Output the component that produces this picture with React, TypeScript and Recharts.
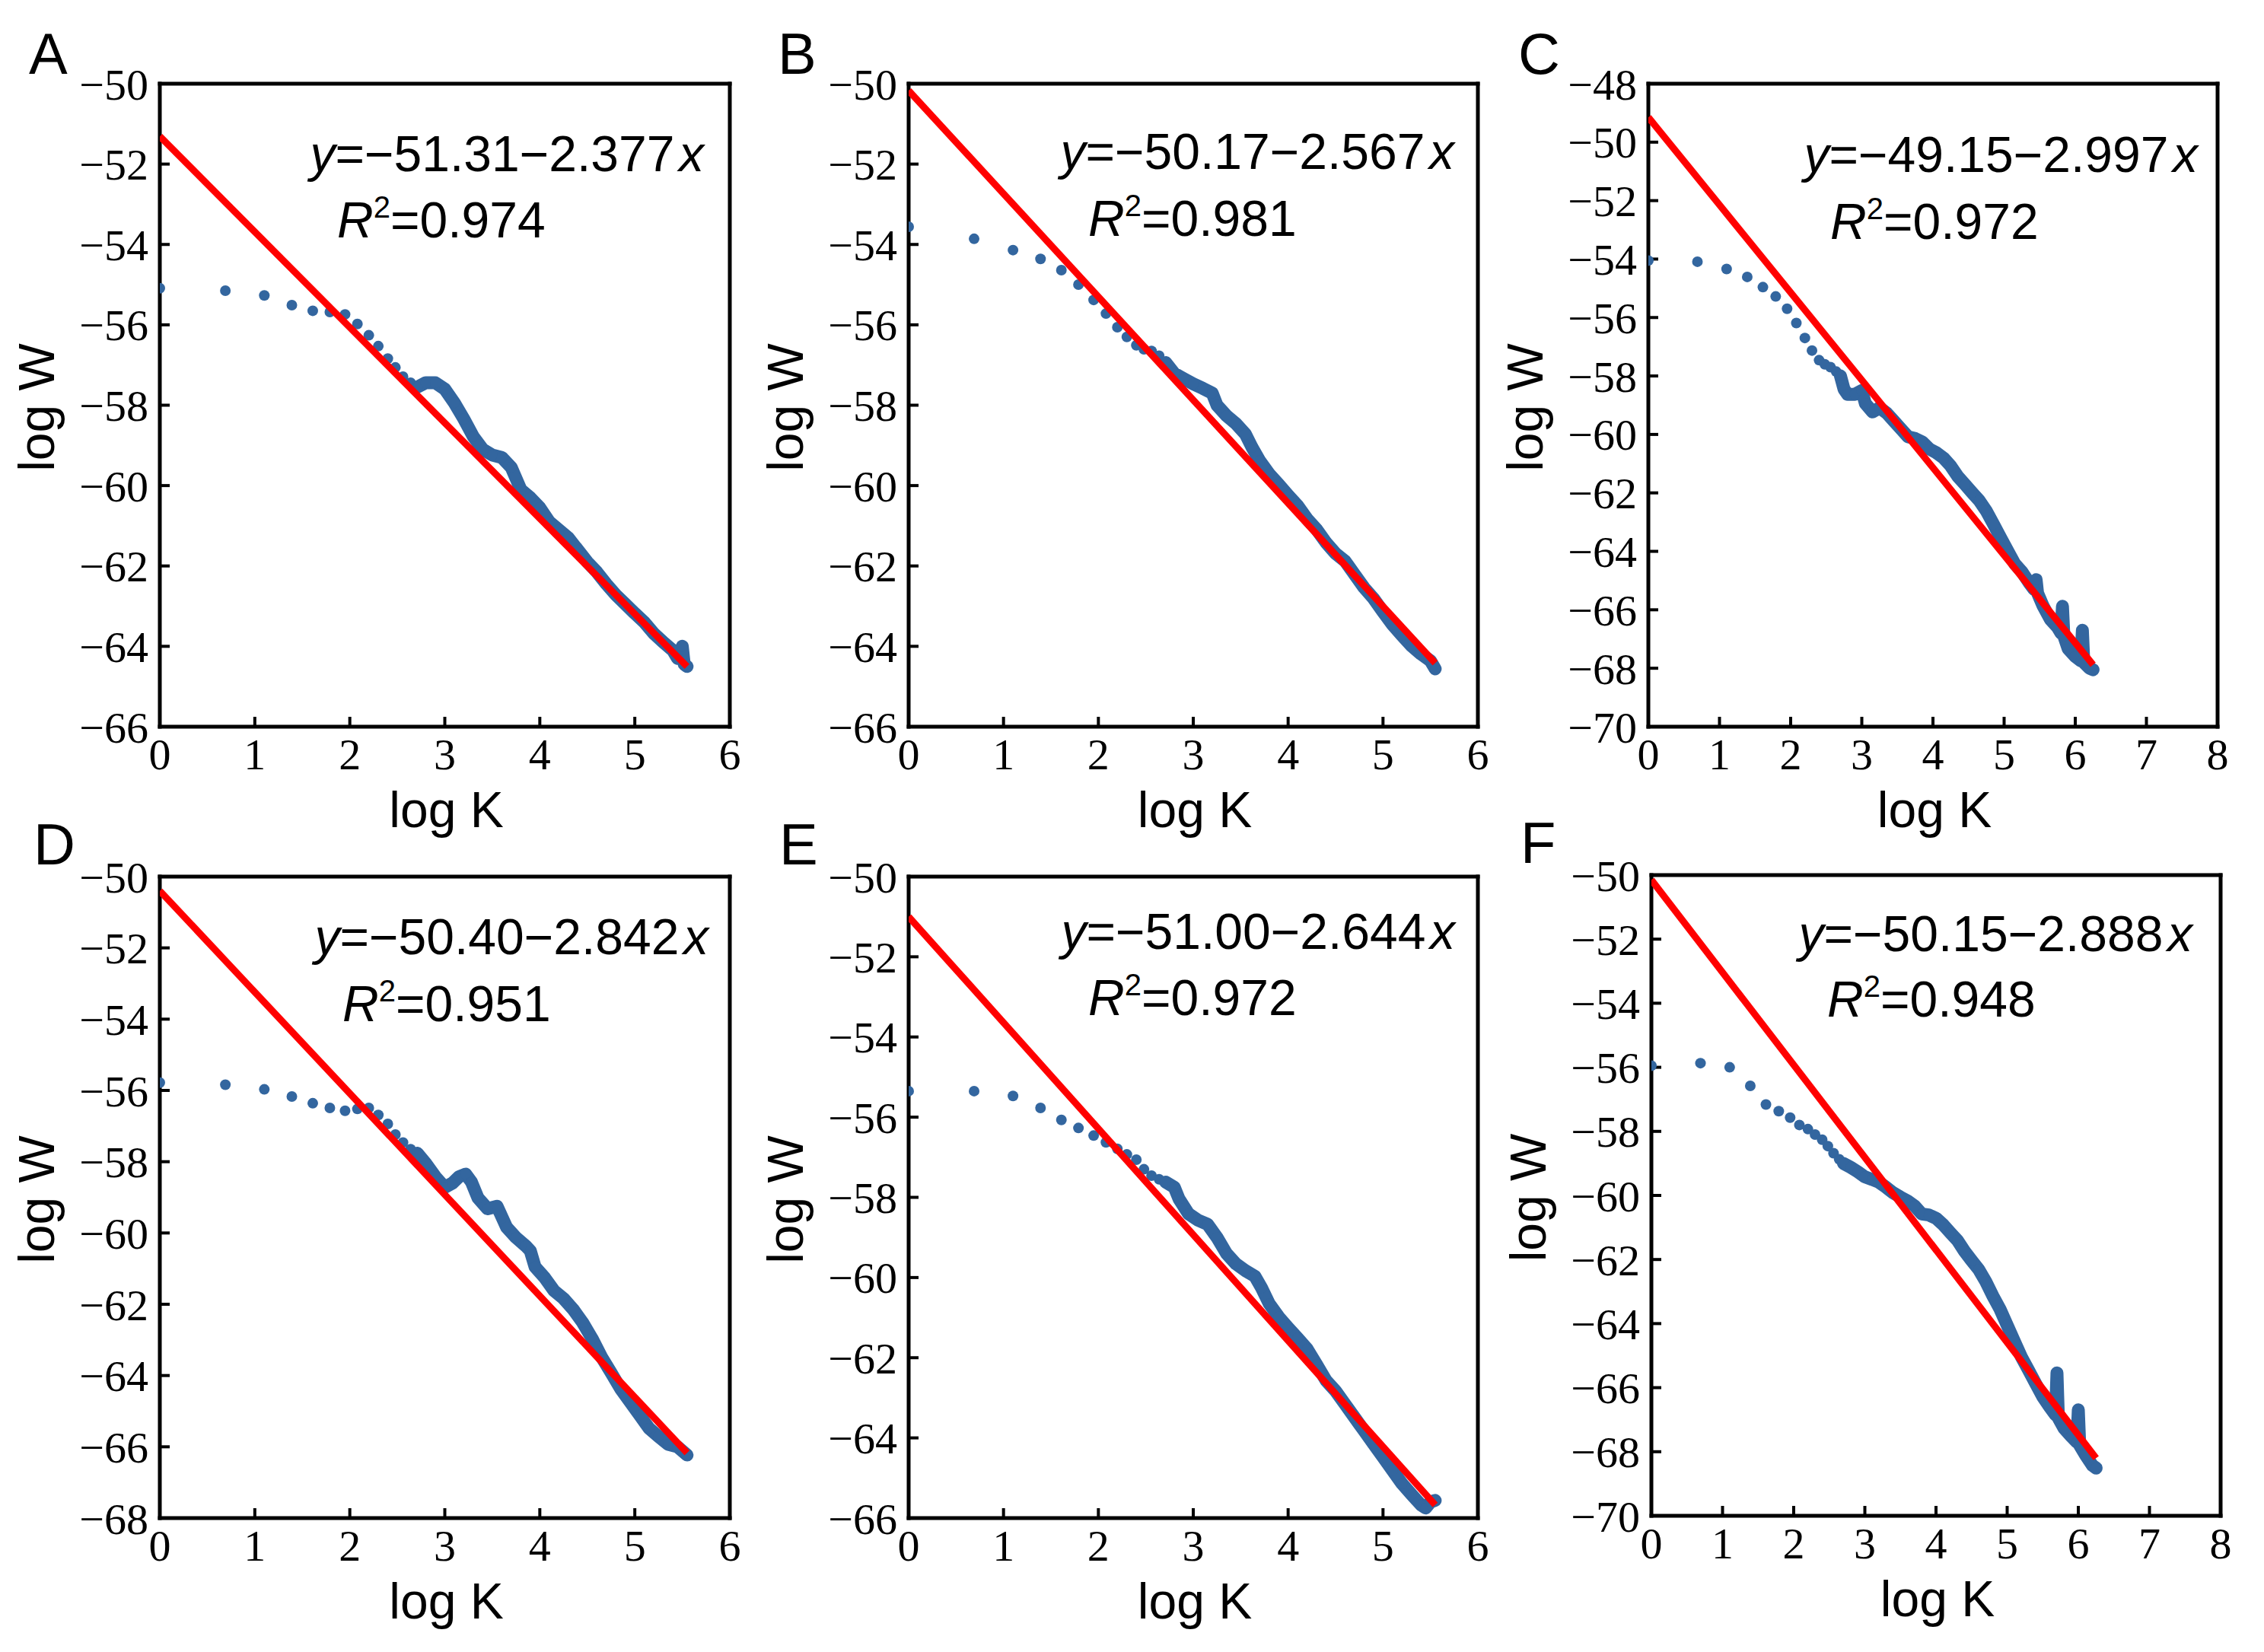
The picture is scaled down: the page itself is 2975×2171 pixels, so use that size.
import React from 'react';
import { ScatterChart, Scatter, XAxis, YAxis } from 'recharts';

// ---- data ----
const PANELS = ['A', 'B', 'C', 'D', 'E', 'F'];
const INTERCEPTS = [-51.31, -50.17, -49.15, -50.4, -51.0, -50.15];
const SLOPES = [-2.377, -2.567, -2.997, -2.842, -2.644, -2.888];
const R_SQUARED = ['0.974', '0.981', '0.972', '0.951', '0.972', '0.948'];
const FIT_END = [5.55, 5.55, 6.25, 5.55, 5.55, 6.25];
const X_MAX = [6, 6, 8, 6, 6, 8];
const Y_MIN = [-66, -66, -70, -68, -66, -70];
const Y_MAX = [-50, -50, -48, -50, -50, -50];

const X_TICKS_6 = [0, 1, 2, 3, 4, 5, 6];
const X_TICKS_8 = [0, 1, 2, 3, 4, 5, 6, 7, 8];

// separate points at small K
const SPARSE_LOG_K = [0, 0.69, 1.1, 1.39, 1.61, 1.79, 1.95, 2.08, 2.2, 2.3, 2.4, 2.48, 2.56, 2.64];
const SPARSE_A = [-55.09, -55.15, -55.27, -55.51, -55.65, -55.68, -55.74, -55.98, -56.26, -56.53, -56.84, -57.06, -57.29, -57.44];
const SPARSE_B = [-53.56, -53.86, -54.14, -54.36, -54.64, -55.0, -55.38, -55.72, -56.06, -56.3, -56.51, -56.61, -56.65, -56.77];
const SPARSE_C = [-54.05, -54.09, -54.34, -54.61, -54.96, -55.28, -55.7, -56.19, -56.7, -57.13, -57.46, -57.6, -57.7, -57.85];
const SPARSE_D = [-55.78, -55.84, -55.97, -56.17, -56.36, -56.49, -56.57, -56.52, -56.49, -56.69, -56.94, -57.24, -57.46, -57.65];
const SPARSE_E = [-55.35, -55.35, -55.47, -55.77, -56.07, -56.27, -56.46, -56.63, -56.79, -56.93, -57.06, -57.3, -57.46, -57.55];
const SPARSE_F = [-55.95, -55.87, -56.0, -56.58, -57.16, -57.37, -57.57, -57.8, -57.93, -58.1, -58.26, -58.46, -58.68, -58.87];

// dense part of the trace, [log K, log W]
const DENSE_A = [
  [2.71, -57.55], [2.8, -57.44], [2.9, -57.44], [3.0, -57.6], [3.1, -57.94], [3.2, -58.34],
  [3.3, -58.78], [3.4, -59.1], [3.5, -59.24], [3.6, -59.3], [3.7, -59.55], [3.8, -60.1],
  [3.9, -60.3], [4.0, -60.55], [4.1, -60.9], [4.2, -61.1], [4.3, -61.3], [4.4, -61.6],
  [4.5, -61.9], [4.6, -62.15], [4.7, -62.45], [4.8, -62.72], [4.9, -62.95], [5.0, -63.18],
  [5.1, -63.4], [5.2, -63.68], [5.3, -63.9], [5.4, -64.1], [5.45, -64.3], [5.5, -64.0],
  [5.52, -64.45], [5.55, -64.5],
];
const DENSE_B = [
  [2.71, -56.94], [2.8, -57.21], [2.9, -57.34], [3.0, -57.47], [3.1, -57.58], [3.2, -57.7],
  [3.25, -58.0], [3.35, -58.26], [3.45, -58.46], [3.55, -58.72], [3.62, -59.05], [3.7, -59.38],
  [3.8, -59.71], [3.9, -59.97], [4.0, -60.24], [4.1, -60.5], [4.2, -60.83], [4.3, -61.09],
  [4.4, -61.42], [4.5, -61.69], [4.6, -61.88], [4.7, -62.21], [4.8, -62.54], [4.9, -62.81],
  [5.0, -63.14], [5.1, -63.46], [5.2, -63.73], [5.3, -63.99], [5.4, -64.19], [5.5, -64.36],
  [5.55, -64.56],
];
const DENSE_C = [
  [2.7, -58.0], [2.75, -58.45], [2.8, -58.63], [2.9, -58.63], [3.0, -58.5], [3.05, -58.94],
  [3.15, -59.23], [3.25, -59.09], [3.35, -59.27], [3.45, -59.54], [3.55, -59.81], [3.65, -60.08],
  [3.75, -60.14], [3.85, -60.26], [3.95, -60.5], [4.05, -60.63], [4.15, -60.81], [4.25, -61.08],
  [4.35, -61.44], [4.45, -61.71], [4.55, -61.99], [4.65, -62.26], [4.75, -62.62], [4.85, -63.07],
  [4.95, -63.53], [5.05, -63.98], [5.15, -64.43], [5.25, -64.7], [5.35, -65.07], [5.42, -65.3],
  [5.45, -64.97], [5.47, -65.43], [5.55, -65.88], [5.65, -66.33], [5.75, -66.6], [5.8, -66.8],
  [5.82, -65.88], [5.84, -66.9], [5.9, -67.33], [6.0, -67.6], [6.08, -67.75], [6.1, -66.7],
  [6.12, -67.8], [6.2, -68.0], [6.25, -68.05],
];
const DENSE_D = [
  [2.71, -57.76], [2.8, -58.05], [2.9, -58.42], [3.0, -58.72], [3.08, -58.6], [3.15, -58.42],
  [3.22, -58.35], [3.28, -58.57], [3.35, -59.02], [3.45, -59.32], [3.55, -59.25], [3.65, -59.84],
  [3.75, -60.13], [3.85, -60.36], [3.9, -60.5], [3.95, -60.95], [4.05, -61.25], [4.15, -61.62],
  [4.25, -61.84], [4.35, -62.14], [4.45, -62.51], [4.55, -62.96], [4.65, -63.48], [4.75, -63.92],
  [4.85, -64.37], [4.95, -64.74], [5.05, -65.11], [5.15, -65.48], [5.25, -65.71], [5.35, -65.93],
  [5.45, -66.0], [5.55, -66.23],
];
const DENSE_E = [
  [2.71, -57.62], [2.8, -57.75], [2.85, -58.04], [2.95, -58.41], [3.05, -58.57], [3.15, -58.67],
  [3.25, -59.0], [3.35, -59.4], [3.45, -59.66], [3.55, -59.83], [3.65, -59.97], [3.72, -60.26],
  [3.8, -60.65], [3.9, -60.98], [4.0, -61.25], [4.1, -61.51], [4.2, -61.78], [4.3, -62.17],
  [4.4, -62.57], [4.5, -62.83], [4.6, -63.16], [4.7, -63.49], [4.8, -63.82], [4.9, -64.15],
  [5.0, -64.48], [5.1, -64.81], [5.2, -65.14], [5.3, -65.41], [5.4, -65.67], [5.45, -65.75],
  [5.5, -65.6], [5.55, -65.56],
];
const DENSE_F = [
  [2.7, -59.0], [2.8, -59.12], [2.9, -59.26], [3.0, -59.42], [3.1, -59.5], [3.2, -59.59],
  [3.3, -59.75], [3.4, -59.92], [3.5, -60.05], [3.6, -60.17], [3.7, -60.33], [3.8, -60.58],
  [3.9, -60.61], [4.0, -60.71], [4.1, -60.91], [4.2, -61.16], [4.3, -61.4], [4.4, -61.74],
  [4.5, -62.03], [4.6, -62.31], [4.7, -62.69], [4.8, -63.14], [4.9, -63.55], [5.0, -64.05],
  [5.1, -64.55], [5.2, -65.04], [5.3, -65.45], [5.4, -65.87], [5.5, -66.28], [5.6, -66.61],
  [5.68, -66.85], [5.7, -65.54], [5.72, -66.95], [5.8, -67.27], [5.9, -67.52], [5.98, -67.7],
  [6.0, -66.69], [6.02, -67.8], [6.1, -68.1], [6.2, -68.43], [6.25, -68.51],
];

const SPARSE = [SPARSE_A, SPARSE_B, SPARSE_C, SPARSE_D, SPARSE_E, SPARSE_F];
const DENSE = [DENSE_A, DENSE_B, DENSE_C, DENSE_D, DENSE_E, DENSE_F];

// ---- layout (page pixels) ----
const LAYOUT = [
  { left: 210, top: 110, width: 749, height: 845, letterX: 38, letterY: 97, eqRight: 925, eqY: 225, r2X: 443, r2Y: 312 },
  { left: 1194, top: 110, width: 748, height: 845, letterX: 1022, letterY: 97, eqRight: 1911, eqY: 222, r2X: 1430, r2Y: 310 },
  { left: 2166, top: 110, width: 748, height: 845, letterX: 1995, letterY: 97, eqRight: 2888, eqY: 226, r2X: 2405, r2Y: 314 },
  { left: 210, top: 1152, width: 749, height: 843, letterX: 44, letterY: 1136, eqRight: 931, eqY: 1254, r2X: 450, r2Y: 1342 },
  { left: 1194, top: 1152, width: 748, height: 843, letterX: 1024, letterY: 1136, eqRight: 1912, eqY: 1247, r2X: 1430, r2Y: 1334 },
  { left: 2170, top: 1150, width: 748, height: 842, letterX: 1998, letterY: 1134, eqRight: 2881, eqY: 1250, r2X: 2401, r2Y: 1336 },
];

const BLUE = '#33669f';
const RED = '#ff0000';
const SANS = '"Liberation Sans", Arial, sans-serif';
const SERIF = '"Liberation Serif", "Times New Roman", serif';
// outer space around the plot box; each side holds two 1px axes
const PAD = { top: 100, right: 30, bottom: 100, left: 200 };
const MARGIN = { top: PAD.top - 2, right: PAD.right - 2, bottom: PAD.bottom - 2, left: PAD.left - 2 };

const steps = (min: number, max: number, step: number) => {
  const out: number[] = [];
  for (let v = min; v <= max + 1e-9; v += step) out.push(Math.round(v * 100) / 100);
  return out;
};
const minus = (v: number) => String(v).replace('-', '\u2212');

const Dot = (props: any) => {
  const { cx, cy } = props;
  if (cx == null || cy == null) return <g />;
  return <circle cx={cx} cy={cy} r={7} fill={BLUE} />;
};
const NoShape = () => <g />;

const frame = { stroke: '#000', strokeWidth: 5, strokeLinecap: 'square' as const };
const major = { stroke: '#000', strokeWidth: 4 };
const minor = { stroke: '#000', strokeWidth: 3 };
const tickFont = { fontFamily: SERIF, fontSize: 58, fill: '#000' };

function Panel({ i }: { i: number }) {
  const lay = LAYOUT[i];
  const xDomain = [0, X_MAX[i]];
  const yDomain = [Y_MIN[i], Y_MAX[i]];
  const xMajor = X_MAX[i] === 8 ? X_TICKS_8 : X_TICKS_6;
  const xMinor = steps(0, X_MAX[i], 0.5);
  const yMajor = steps(Y_MIN[i], Y_MAX[i], 2);
  const yMinor = steps(Y_MIN[i], Y_MAX[i], 1);
  const sparse = SPARSE_LOG_K.map((x, j) => ({ x, y: SPARSE[i][j] }));
  const dense = DENSE[i].map(([x, y]) => ({ x, y }));
  const fit = [
    { x: 0, y: INTERCEPTS[i] },
    { x: FIT_END[i], y: INTERCEPTS[i] + SLOPES[i] * FIT_END[i] },
  ];
  const common = { type: 'number' as const, allowDataOverflow: true, interval: 0 as const };

  return (
    <div style={{ position: 'absolute', left: lay.left - PAD.left, top: lay.top - PAD.top }}>
      <ScatterChart width={lay.width + PAD.left + PAD.right} height={lay.height + PAD.top + PAD.bottom} margin={MARGIN}>
        {/* bottom: labels + major ticks + frame, then minor ticks */}
        <XAxis {...common} xAxisId="x" dataKey="x" domain={xDomain} ticks={xMajor} height={1}
          axisLine={frame} tickLine={major} tickSize={-13} tickMargin={28} tick={tickFont} />
        <XAxis {...common} xAxisId="xbm" domain={xDomain} ticks={xMinor} height={1}
          tick={false} tickSize={-8} tickLine={minor} axisLine={false} />
        {/* top */}
        <XAxis {...common} xAxisId="xt" orientation="top" domain={xDomain} ticks={xMajor} height={1}
          tick={false} tickSize={-13} tickLine={major} axisLine={frame} />
        <XAxis {...common} xAxisId="xtm" orientation="top" domain={xDomain} ticks={xMinor} height={1}
          tick={false} tickSize={-8} tickLine={minor} axisLine={false} />
        {/* left */}
        <YAxis {...common} yAxisId="y" dataKey="y" domain={yDomain} ticks={yMajor} width={1}
          axisLine={frame} tickLine={major} tickSize={-13} tickMargin={28} tickFormatter={minus} tick={tickFont} />
        <YAxis {...common} yAxisId="ylm" domain={yDomain} ticks={yMinor} width={1}
          tick={false} tickSize={-8} tickLine={minor} axisLine={false} />
        {/* right */}
        <YAxis {...common} yAxisId="yr" orientation="right" domain={yDomain} ticks={yMajor} width={1}
          tick={false} tickSize={-13} tickLine={major} axisLine={frame} />
        <YAxis {...common} yAxisId="yrm" orientation="right" domain={yDomain} ticks={yMinor} width={1}
          tick={false} tickSize={-8} tickLine={minor} axisLine={false} />
        <Scatter xAxisId="x" yAxisId="y" data={sparse} fill={BLUE} shape={Dot} isAnimationActive={false} />
        <Scatter xAxisId="x" yAxisId="y" data={dense} fill={BLUE} shape={Dot} isAnimationActive={false}
          line={{ stroke: BLUE, strokeWidth: 17, strokeLinejoin: 'round', strokeLinecap: 'round' }} />
        <Scatter xAxisId="x" yAxisId="y" data={fit} fill={RED} shape={NoShape} isAnimationActive={false}
          line={{ stroke: RED, strokeWidth: 9 }} />
      </ScatterChart>
    </div>
  );
}

function Texts() {
  return (
    <svg width={2975} height={2171} style={{ position: 'absolute', left: 0, top: 0, pointerEvents: 'none' }}
      fontFamily={SANS} fill="#000">
      {PANELS.map((p, i) => {
        const lay = LAYOUT[i];
        const cy = lay.top + lay.height / 2 + 3;
        return (
          <g key={p}>
            <text x={lay.letterX} y={lay.letterY} fontSize={76}>{p}</text>
            <text transform={`translate(${lay.left - 139}, ${cy}) rotate(-90)`} textAnchor="middle" fontSize={66}>log W</text>
            <text x={lay.left + lay.width / 2 + 2} y={lay.top + lay.height + 132} textAnchor="middle" fontSize={66}>log K</text>
            <text x={lay.eqRight} y={lay.eqY} textAnchor="end" fontSize={66}>
              <tspan fontStyle="italic">y</tspan>
              {`=\u2212${Math.abs(INTERCEPTS[i]).toFixed(2)}\u2212${Math.abs(SLOPES[i]).toFixed(3)}\u200A`}
              <tspan fontStyle="italic">x</tspan>
            </text>
            <text x={lay.r2X} y={lay.r2Y} fontSize={66}>
              <tspan fontStyle="italic">R</tspan>
              <tspan fontSize={40} dy={-26}>2</tspan>
              <tspan dy={26}>{`=${R_SQUARED[i]}`}</tspan>
            </text>
          </g>
        );
      })}
    </svg>
  );
}

export default function App() {
  return (
    <div style={{ position: 'absolute', left: 0, top: 0, width: 2975, height: 2171, background: '#fff', overflow: 'hidden' }}>
      {PANELS.map((p, i) => <Panel key={p} i={i} />)}
      <Texts />
    </div>
  );
}
